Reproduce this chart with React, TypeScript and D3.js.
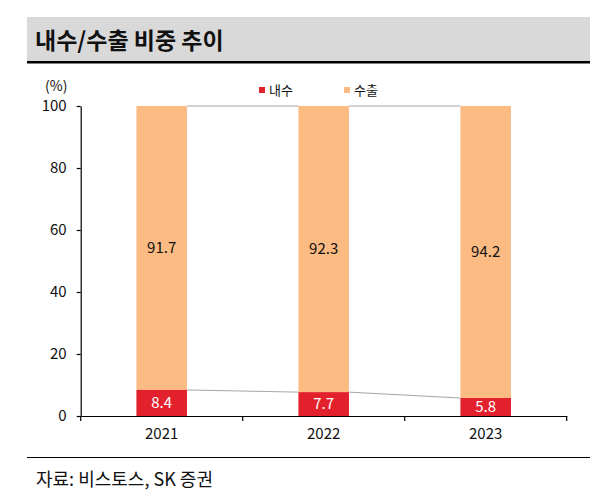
import { useEffect, useRef } from 'react'
import { select, scaleBand, scaleLinear, axisLeft, axisBottom } from 'd3'

const years = ['2021', '2022', '2023']
const domestic = [8.4, 7.7, 5.8] // 내수
const exports = [91.7, 92.3, 94.2] // 수출
const yTicks = [0, 20, 40, 60, 80, 100]

const RED = '#E2212D'
const ORANGE = '#FBBB83'
const FONT = "'Noto Sans CJK KR', 'Noto Sans', sans-serif"

const App = () => {
  const svgRef = useRef(null)

  useEffect(() => {
    document.body.style.margin = '0'
    const width = 600
    const height = 490
    const svg = select(svgRef.current)
    svg.selectAll('*').remove()
    svg.attr('width', width).attr('height', height).style('display', 'block').style('font-family', FONT)

    // header band
    svg.append('rect').attr('x', 27).attr('y', 17).attr('width', 563).attr('height', 45).attr('fill', '#D9D9D9')
    svg.append('rect').attr('x', 27).attr('y', 61).attr('width', 563).attr('height', 2.5).attr('fill', '#000')
    svg
      .append('text')
      .attr('x', 35)
      .attr('y', 49)
      .attr('font-size', 23)
      .attr('font-weight', 'bold')
      .attr('fill', '#111')
      .text('내수/수출 비중 추이')

    // footer
    svg.append('rect').attr('x', 27).attr('y', 457).attr('width', 563).attr('height', 1).attr('fill', '#000')
    svg.append('text').attr('x', 36).attr('y', 486).attr('font-size', 18).attr('fill', '#111').text('자료: 비스토스, SK 증권')

    const left = 80.7
    const right = 566.7
    const top = 106
    const bottom = 416

    const x = scaleBand<string>().domain(years).range([left, right])
    const y = scaleLinear().domain([0, 100]).range([bottom, top])
    const barW = x.bandwidth() * 0.312
    const bx = (d: string) => x(d)! + (x.bandwidth() - barW) / 2

    // connector lines between bars
    const conn = svg.append('g').attr('stroke', '#A6A6A6').attr('stroke-width', 1)
    for (let i = 0; i < years.length - 1; i++) {
      conn
        .append('line')
        .attr('x1', bx(years[i]) + barW)
        .attr('x2', bx(years[i + 1]))
        .attr('y1', y(domestic[i]))
        .attr('y2', y(domestic[i + 1]))
      conn
        .append('line')
        .attr('x1', bx(years[i]) + barW)
        .attr('x2', bx(years[i + 1]))
        .attr('y1', y(Math.min(100, domestic[i] + exports[i])))
        .attr('y2', y(Math.min(100, domestic[i + 1] + exports[i + 1])))
    }

    // bars
    years.forEach((yr, i) => {
      const d = domestic[i]
      const e = exports[i]
      const topVal = Math.min(100, d + e)
      svg
        .append('rect')
        .attr('x', bx(yr))
        .attr('width', barW)
        .attr('y', y(topVal))
        .attr('height', y(d) - y(topVal))
        .attr('fill', ORANGE)
      svg
        .append('rect')
        .attr('x', bx(yr))
        .attr('width', barW)
        .attr('y', y(d))
        .attr('height', y(0) - y(d))
        .attr('fill', RED)
      svg
        .append('text')
        .attr('x', bx(yr) + barW / 2)
        .attr('y', (y(d) + y(topVal)) / 2)
        .attr('dy', '0.35em')
        .attr('text-anchor', 'middle')
        .attr('font-size', 15)
        .attr('fill', '#111')
        .text(e.toFixed(1))
      svg
        .append('text')
        .attr('x', bx(yr) + barW / 2)
        .attr('y', (y(0) + y(d)) / 2)
        .attr('dy', '0.35em')
        .attr('text-anchor', 'middle')
        .attr('font-size', 15)
        .attr('fill', '#fff')
        .text(d.toFixed(1))
    })

    // y axis
    const yAxis = svg
      .append('g')
      .attr('transform', `translate(${left},0)`)
      .call(axisLeft(y).tickValues(yTicks).tickSize(4).tickSizeOuter(0).tickPadding(10))
    yAxis.selectAll('path,line').attr('stroke', '#000').attr('stroke-width', 1.2)
    yAxis.selectAll('text').attr('font-size', 15).attr('fill', '#111').attr('font-family', FONT)

    // x axis
    const xAxis = svg
      .append('g')
      .attr('transform', `translate(0,${bottom})`)
      .call(axisBottom(x).tickSize(0).tickPadding(12))
    xAxis.select('path').attr('stroke', '#000').attr('stroke-width', 1.2)
    xAxis.selectAll('text').attr('font-size', 15).attr('fill', '#111').attr('font-family', FONT)
    // boundary ticks between categories
    const bounds = [...years.map((d) => x(d)!), right]
    xAxis
      .selectAll('line.bound')
      .data(bounds)
      .join('line')
      .attr('class', 'bound')
      .attr('x1', (d) => d)
      .attr('x2', (d) => d)
      .attr('y1', 0)
      .attr('y2', 5)
      .attr('stroke', '#000')
      .attr('stroke-width', 1.2)

    // y unit
    svg.append('text').attr('x', 45).attr('y', 91).attr('font-size', 14).attr('fill', '#111').text('(%)')

    // legend
    const legend = [
      { label: '내수', color: RED, x: 259 },
      { label: '수출', color: ORANGE, x: 344 },
    ]
    legend.forEach((l) => {
      svg.append('rect').attr('x', l.x).attr('y', 87).attr('width', 6).attr('height', 6).attr('fill', l.color)
      svg.append('text').attr('x', l.x + 10).attr('y', 95).attr('font-size', 13).attr('fill', '#111').text(l.label)
    })
  }, [])

  return <svg ref={svgRef} />
}

export default App
